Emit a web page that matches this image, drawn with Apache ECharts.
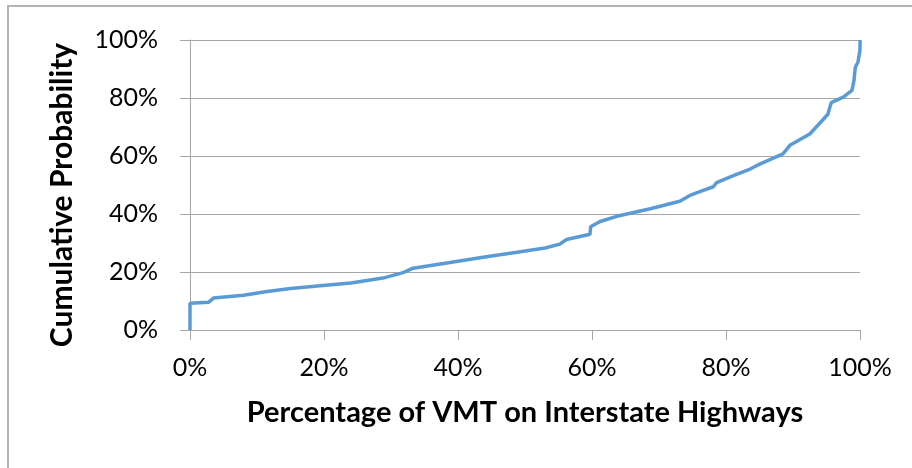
<!DOCTYPE html>
<html>
<head>
<meta charset="utf-8">
<script src="https://cdn.jsdelivr.net/npm/echarts@6/dist/echarts.min.js"></script>
<style>
  html, body { margin: 0; padding: 0; background: #fff; }
  #chart { width: 912px; height: 468px; }
</style>
</head>
<body>
<div id="chart"></div>
<script>
// percentage of VMT on interstate highways (x) vs cumulative probability (y)
const vmtPct = [0, 0, 2.8, 3.5, 8, 11.5, 15, 19, 24, 28.8, 31.8, 33.3, 38.8, 44, 48.8, 53, 55.2, 56.2, 59.7, 59.8,
  61.2, 63.7, 68.7, 73.1, 74.6, 76.1, 78.1, 78.6, 81.1, 83.6, 85.1, 88.5, 89.6, 92.5, 94.5, 95.2, 95.7, 97.5,
  98.8, 99.1, 99.3, 99.7, 100, 100]
const cumProb = [0, 9.2, 9.6, 11, 12, 13.3, 14.3, 15.2, 16.2, 17.9, 19.8, 21.3, 23.3, 25.2, 26.8, 28.3, 29.6, 31.2, 33, 35.6,
  37.4, 39.2, 41.8, 44.4, 46.4, 47.7, 49.4, 50.8, 53.2, 55.5, 57.3, 60.7, 63.8, 67.6, 72.6, 74.4, 78.4, 80.3,
  82.6, 86, 90.6, 92.4, 96.6, 100]

const xTitle = 'Percentage of VMT on Interstate Highways'
const yTitle = 'Cumulative Probability'

const font = 'Lato'
const gridColor = '#a6a6a6'

const chart = echarts.init(document.getElementById('chart'))

chart.setOption({
  animation: false,
  graphic: [
    {
      type: 'rect',
      shape: { x: 8, y: 6, width: 1000, height: 600 },
      style: { fill: 'none', stroke: '#b3b3b3', lineWidth: 2 },
      silent: true
    }
  ],
  grid: { left: 190, right: 52, top: 40, bottom: 138 },
  xAxis: {
    type: 'value',
    min: 0,
    max: 100,
    interval: 20,
    name: xTitle,
    nameLocation: 'middle',
    nameGap: 68,
    nameTextStyle: { fontFamily: font, fontSize: 29, fontWeight: 'bold', color: '#000' },
    axisLine: { show: true, lineStyle: { color: gridColor, width: 1 } },
    axisTick: { show: true, length: 10, lineStyle: { color: gridColor } },
    axisLabel: {
      margin: 25,
      formatter: '{value}%',
      fontFamily: font,
      fontSize: 25,
      color: '#000'
    },
    splitLine: { show: false }
  },
  yAxis: {
    type: 'value',
    min: 0,
    max: 100,
    interval: 20,
    name: yTitle,
    nameLocation: 'middle',
    nameGap: 113,
    nameTextStyle: { fontFamily: font, fontSize: 30, fontWeight: 'bold', color: '#000', padding: [0, 20, 0, 0] },
    axisLine: { show: true, lineStyle: { color: gridColor, width: 1 } },
    axisTick: { show: true, length: 10, lineStyle: { color: gridColor } },
    axisLabel: {
      margin: 32,
      formatter: '{value}%',
      fontFamily: font,
      fontSize: 25,
      color: '#000'
    },
    splitLine: { show: true, lineStyle: { color: gridColor, width: 1 } }
  },
  series: [
    {
      type: 'line',
      data: vmtPct.map((x, i) => [x, cumProb[i]]),
      showSymbol: false,
      lineStyle: { color: '#5b9bd5', width: 3.5 },
      itemStyle: { color: '#5b9bd5' }
    }
  ]
})
</script>
</body>
</html>
